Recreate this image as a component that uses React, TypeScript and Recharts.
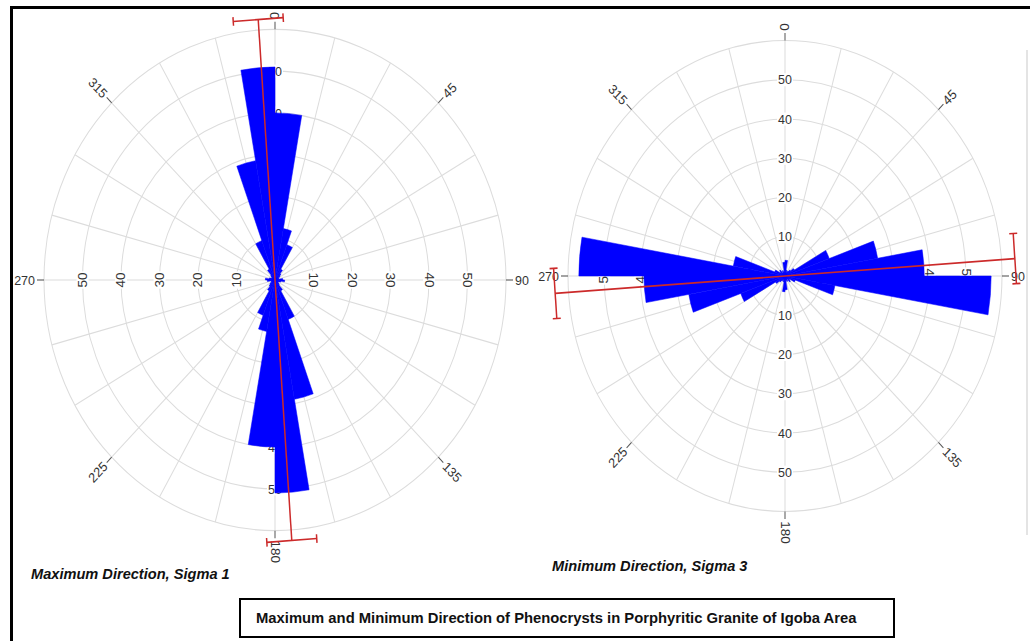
import React from 'react'
import { RadialBarChart, RadialBar, PolarGrid, PolarAngleAxis, PolarRadiusAxis } from 'recharts'

// 10 degree bins, clockwise from north
const binStarts = [0, 10, 20, 30, 40, 50, 60, 70, 80, 90, 100, 110, 120, 130, 140, 150, 160, 170,
  180, 190, 200, 210, 220, 230, 240, 250, 260, 270, 280, 290, 300, 310, 320, 330, 340, 350]

const sigma1Counts = [40, 12.5, 9, 3, 2, 1.5, 1, 1, 2, 2.5, 1.5, 1, 1, 1.5, 3, 10, 29, 51,
  40, 12.5, 9, 3, 2, 1.5, 1, 1, 2, 2.5, 1.5, 1, 1, 1.5, 3, 10, 29, 51]

const sigma3Counts = [4, 1.5, 1, 1.5, 2, 3, 13, 26, 38.5, 57, 14, 3, 1.5, 2, 1, 1.5, 1, 3.5,
  4, 1.5, 1, 1.5, 2, 3, 13, 27, 39, 57, 14.5, 3, 1.5, 2, 1, 1.5, 1, 3.5]

const radiusTicks = [10, 20, 30, 40, 50]
const radiusMax = 60
const spokeAngles = [0, 15, 30, 45, 60, 75, 90, 105, 120, 135, 150, 165, 180, 195, 210, 225, 240, 255, 270, 285, 300, 315, 330, 345]
const angleLabels = [0, 45, 90, 135, 180, 225, 270, 315]

// mean direction (deg), reach of the line and half width of the confidence bar (count units)
const meanDirection = [356, 86]
const meanReach = [62.5, 63.7]
const ciHalfWidth = [6.5, 6.4]

const captions = ['Maximum Direction, Sigma 1', 'Minimum Direction, Sigma 3']
const title = 'Maximum and Minimum Direction of Phenocrysts in Porphyritic Granite of Igoba Area'

const FONT = '"Liberation Sans", Arial, sans-serif'
const STRETCH = 1.085
const RED = '#cc2a2a'

type RoseProps = {
  counts: number[]
  left: number
  cx: number
  cy: number
  outer: number
  dir: number
  reach: number
  ci: number
}

function Rose({ counts, left, cx, cy, outer, dir, reach, ci }: RoseProps) {
  const W = 520
  const H = 560
  const data = binStarts.map((b, i) => ({ bin: String(b), value: counts[i] }))
  const px = (v: number) => (v / radiusMax) * outer
  const pt = (deg: number, r: number) => {
    const a = (deg * Math.PI) / 180
    return [cx + r * Math.sin(a), cy - r * Math.cos(a)]
  }

  const radiusTick = (p: any) => {
    const v = p.payload?.value
    if (!radiusTicks.includes(v)) return <g />
    const r = Math.hypot(p.x - cx, p.y - cy)
    const spots: [number, number, number][] = [
      [cx, cy - r, 0],
      [cx, cy + r, 0],
      [cx - r, cy, -90],
      [cx + r, cy, 90],
    ]
    return (
      <g>
        {spots.map(([x, y, rot], k) => (
          <g key={k} transform={`translate(${x},${y}) rotate(${rot})`}>
            <rect x={-8} y={-6} width={16} height={12} fill="#fff" />
            <text x={0} y={0} textAnchor="middle" dominantBaseline="central" fontSize={12.5} fill="#333" fontFamily={FONT}>
              {v}
            </text>
          </g>
        ))}
      </g>
    )
  }

  // mean direction line with confidence bars at both ends
  const ends = [dir, dir + 180].map((d) => {
    const [x, y] = pt(d, px(reach))
    const a = (d * Math.PI) / 180
    const h = px(ci)
    const ux = Math.cos(a), uy = Math.sin(a) // perpendicular to radius
    const rx = Math.sin(a), ry = -Math.cos(a) // along radius
    return { x, y, ux, uy, rx, ry, h }
  })

  return (
    <div
      style={{
        position: 'absolute',
        left,
        top: 0,
        width: W,
        height: H,
        transform: `scaleY(${STRETCH})`,
        transformOrigin: `${cx}px ${cy}px`,
      }}
    >
      <RadialBarChart
        width={W}
        height={H}
        data={data}
        layout="centric"
        cx={cx}
        cy={cy}
        innerRadius={0}
        outerRadius={outer}
        startAngle={80}
        endAngle={-280}
        barCategoryGap={0}
        barGap={0}
        style={{ position: 'absolute', left: 0, top: 0 }}
      >
        <PolarGrid
          gridType="circle"
          polarAngles={spokeAngles.map((a) => 90 - a)}
          polarRadius={[...radiusTicks, radiusMax].map(px)}
          stroke="#dcdcdc"
          strokeWidth={1}
        />
        <PolarAngleAxis type="category" dataKey="bin" tick={false} axisLine={false} tickLine={false} />
        <PolarRadiusAxis
          type="number"
          domain={[0, radiusMax]}
          tickCount={7}
          angle={90}
          axisLine={false}
          tick={radiusTick}
          zIndex={100}
        />
        <RadialBar dataKey="value" fill="#0000ff" stroke="#0000ff" strokeWidth={0.5} isAnimationActive={false} />
      </RadialBarChart>

      <svg width={W} height={H} style={{ position: 'absolute', left: 0, top: 0, pointerEvents: 'none', overflow: 'visible' }}>
        {angleLabels.map((deg) => {
          const [x1, y1] = pt(deg, outer)
          const [x2, y2] = pt(deg, outer + 7)
          const [tx, ty] = pt(deg, outer + 9)
          let rot = deg - 90
          let anchor: 'start' | 'end' = 'start'
          if (rot > 90) {
            rot -= 180
            anchor = 'end'
          }
          return (
            <g key={deg}>
              <line x1={x1} y1={y1} x2={x2} y2={y2} stroke="#555" strokeWidth={1} />
              <text
                transform={`translate(${tx},${ty}) rotate(${rot})`}
                textAnchor={anchor}
                dominantBaseline="central"
                fontSize={12.5}
                fill="#333"
                fontFamily={FONT}
              >
                {deg}
              </text>
            </g>
          )
        })}
        <line x1={ends[0].x} y1={ends[0].y} x2={ends[1].x} y2={ends[1].y} stroke={RED} strokeWidth={1.5} />
        {ends.map((e, k) => (
          <g key={k} stroke={RED} strokeWidth={1.5}>
            <line x1={e.x - e.ux * e.h} y1={e.y - e.uy * e.h} x2={e.x + e.ux * e.h} y2={e.y + e.uy * e.h} />
            <line
              x1={e.x - e.ux * e.h - e.rx * 4}
              y1={e.y - e.uy * e.h - e.ry * 4}
              x2={e.x - e.ux * e.h + e.rx * 4}
              y2={e.y - e.uy * e.h + e.ry * 4}
            />
            <line
              x1={e.x + e.ux * e.h - e.rx * 4}
              y1={e.y + e.uy * e.h - e.ry * 4}
              x2={e.x + e.ux * e.h + e.rx * 4}
              y2={e.y + e.uy * e.h + e.ry * 4}
            />
          </g>
        ))}
      </svg>
    </div>
  )
}

export default function App() {
  return (
    <div style={{ position: 'absolute', left: 0, top: 0, width: 1030, height: 641, background: '#fff', overflow: 'hidden', fontFamily: FONT }}>
      <div style={{ position: 'absolute', left: 10, top: 6, width: 1030, height: 700, borderLeft: '3px solid #000', borderTop: '3px solid #000' }} />
      <div style={{ position: 'absolute', left: 1026, top: 50, width: 2, height: 485, background: '#e4e4e4' }} />

      <Rose counts={sigma1Counts} left={0} cx={275} cy={280} outer={231} dir={meanDirection[0]} reach={meanReach[0]} ci={ciHalfWidth[0]} />
      <Rose counts={sigma3Counts} left={510} cx={275} cy={276} outer={217} dir={meanDirection[1]} reach={meanReach[1]} ci={ciHalfWidth[1]} />

      <div style={{ position: 'absolute', left: 31, top: 566, fontSize: 14.6, fontWeight: 'bold', fontStyle: 'italic', color: '#111', whiteSpace: 'nowrap' }}>
        {captions[0]}
      </div>
      <div style={{ position: 'absolute', left: 552, top: 558, fontSize: 14.6, fontWeight: 'bold', fontStyle: 'italic', color: '#111', whiteSpace: 'nowrap' }}>
        {captions[1]}
      </div>

      <div
        style={{
          position: 'absolute',
          left: 239,
          top: 598,
          width: 656,
          height: 40,
          boxSizing: 'border-box',
          border: '2px solid #000',
          fontSize: 14.8,
          fontWeight: 'bold',
          color: '#111',
          lineHeight: '36px',
          paddingLeft: 15,
          whiteSpace: 'nowrap',
        }}
      >
        {title}
      </div>
    </div>
  )
}
